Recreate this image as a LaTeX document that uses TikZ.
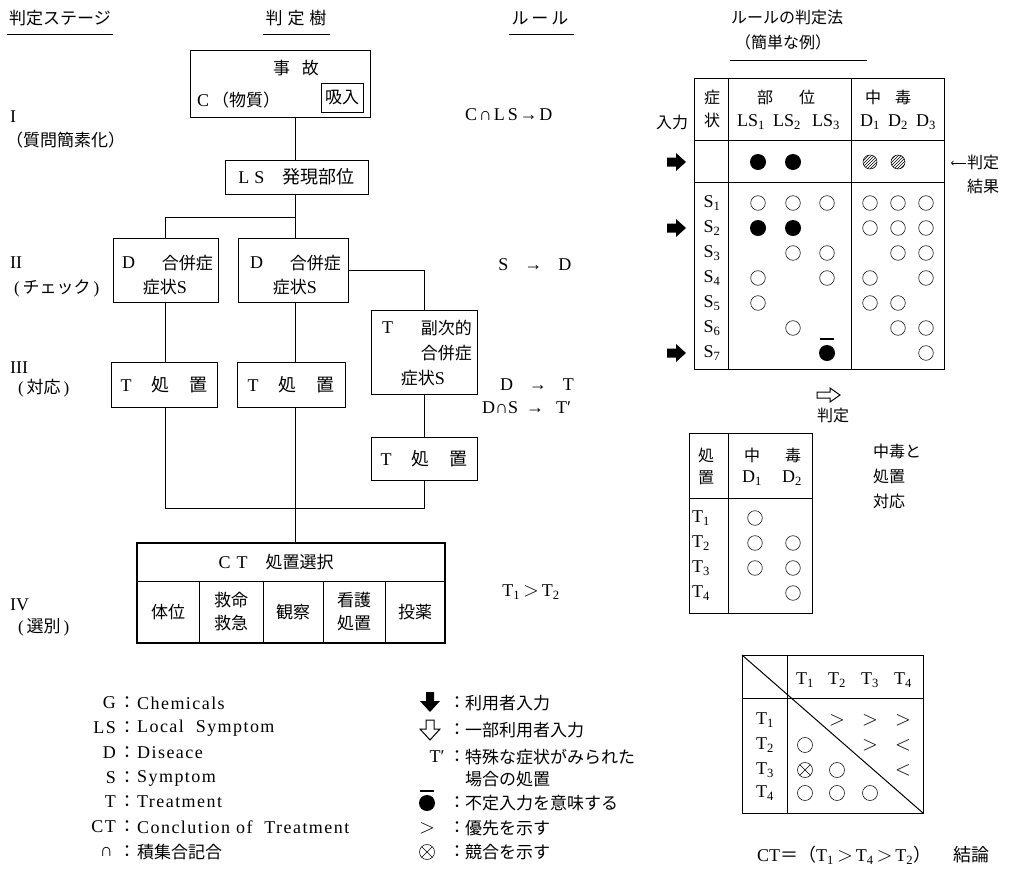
\documentclass[tikz,border=0pt]{standalone}
\usepackage{fontspec}
\setmainfont{Liberation Serif}
\newfontfamily\jp{Noto Sans CJK JP}
\newfontfamily\lsp[LetterSpace=8]{Liberation Serif}
\newfontfamily\rsp[LetterSpace=10]{Liberation Serif}
\usetikzlibrary{patterns}
\newcommand\mysub[1]{\textsubscript{#1}}
\newcommand\mygt{{\fontsize{20}{20}\selectfont$>$}}
\newcommand\mylt{{\fontsize{20}{20}\selectfont$<$}}
\newcommand\Tsyo{T\hspace{20pt}{\jp 処}\hspace{20pt}{\jp 置}}
\begin{document}
\begin{tikzpicture}[x=1pt,y=-1pt,
  t/.style={inner sep=0pt, font=\fontsize{18}{20}\selectfont},
  r/.style={inner sep=0pt, font=\fontsize{18}{20}\selectfont\rsp},
  j/.style={inner sep=0pt, font=\fontsize{17}{22}\selectfont\jp},
  js/.style={inner sep=0pt, font=\fontsize{16}{20}\selectfont\jp},
  box/.style={draw, line width=0.9pt, inner sep=0pt, font=\fontsize{18}{23}\selectfont},
  cell/.style={box, align=center, font=\fontsize{17}{23}\selectfont\jp},
  ln/.style={line width=0.9pt},
  tbl/.style={line width=0.9pt},
  oc/.style={line width=0.55pt},
  lg/.style={inner sep=0pt, font=\fontsize{18}{20}\selectfont\lsp},
  gl/.style={inner sep=0pt, font=\fontsize{20}{20}\selectfont},
]
\useasboundingbox (0,0) rectangle (1010,871);

% ---------- headers ----------
\node[j] (h1) at (60,18) {判定ステージ};
\draw[ln] (7,34) -- (113,34);
\node[j] (h2) at (296,18) {判\hspace{5pt}定\hspace{5pt}樹};
\draw[ln] (263,34) -- (330,34);
\node[j] (h3) at (540,18) {ル\hspace{3pt}ー\hspace{3pt}ル};
\draw[ln] (509,34) -- (574,34);
\node[js] (h4) at (787,17) {ルールの判定法};
\node[js] (h5) at (783,42) {（簡単な例）};
\draw[ln] (730,60) -- (867,60);

% ---------- stage labels ----------
\node[t, anchor=west] (s1) at (10,117) {I};
\node[j, anchor=west] (s1b) at (6,140) {（質問簡素化）};
\node[t, anchor=west] (s2) at (10,263) {II};
\node[j, anchor=west] (s2b) at (14,288) {{\rmfamily(}\,チェック\,{\rmfamily)}};
\node[t, anchor=west] (s3) at (10,368) {III};
\node[j, anchor=west] (s3b) at (18,388) {{\rmfamily(}\,対応\,{\rmfamily)}};
\node[t, anchor=west] (s4) at (10,605) {IV};
\node[j, anchor=west] (s4b) at (18,627) {{\rmfamily(}\,選別\,{\rmfamily)}};

% ---------- decision tree ----------
\coordinate (trunk) at (295,0);
\node[box, minimum width=180, minimum height=67] (acc) at (280,83.5) {};
\node[j] (acc1) at (296,68) {事\hspace{12pt}故};
\node[j, anchor=west] (acc2) at (197,100) {{\rmfamily\fontsize{18}{20}\selectfont C}\,（物質）};
\node[box, minimum width=42, minimum height=29, font=\fontsize{17}{20}\selectfont\jp] (inh) at (342,97.5) {吸入};

\node[box, minimum width=143, minimum height=34] (ls) at (296.5,177) {L\hspace{5pt}S\hspace{18pt}{\jp 発現部位}};
\draw[ln] (acc.south -| trunk) -- (ls.north -| trunk);

\node[box, minimum width=105, minimum height=64] (d1) at (165.5,270) {};
\node[box, minimum width=110, minimum height=64] (d2) at (293,270) {};
\coordinate (jn) at (295,217);
\draw[ln] (ls.south -| trunk) -- (d2.north -| trunk);
\draw[ln] (jn) -| (d1.north);
\node[t, anchor=west] (d1a) at (122,263) {D};
\node[j, anchor=east] (d1b) at (213,263) {合併症};
\node[j] (d1c) at (165,287) {症状{\rmfamily\fontsize{18}{20}\selectfont S}};
\node[t, anchor=west] (d2a) at (250,263) {D};
\node[j, anchor=east] (d2b) at (341,263) {合併症};
\node[j] (d2c) at (295,287) {症状{\rmfamily\fontsize{18}{20}\selectfont S}};

\node[box, minimum width=106, minimum height=84] (ts) at (424,352) {};
\draw[ln] (d2.east) -| (ts.north);
\node[t, anchor=west] (tsa) at (382,328) {T};
\node[j, anchor=east] (tsb) at (472,328) {副次的};
\node[j, anchor=east] (tsc) at (472,353) {合併症};
\node[j] (tsd) at (423,378) {症状{\rmfamily\fontsize{18}{20}\selectfont S}};

\node[box, minimum width=106, minimum height=45] (t1) at (164,384.5) {\Tsyo};
\node[box, minimum width=108, minimum height=45] (t2) at (291,385) {\Tsyo};
\node[box, minimum width=106, minimum height=43] (t3) at (424,458.5) {\Tsyo};
\draw[ln] (d1.south) -- (d1.south |- t1.north);
\draw[ln] (d2.south -| trunk) -- (t2.north -| trunk);
\draw[ln] (ts.south) -- (ts.south |- t3.north);

\node[box, line width=1.1pt, minimum width=308, minimum height=100] (ct) at (291,593) {};
\coordinate (bj) at (295,508);
\draw[ln] (t1.south -| d1.south) -- (d1.south |- bj) -| (t3.south);
\draw[ln] (t2.south -| trunk) -- (ct.north -| trunk);
\node[j] (ctt) at (276,562) {{\rmfamily\fontsize{18}{20}\selectfont C\hspace{6pt}T}\hspace{18pt}処置選択};
\node[cell, minimum width=62, minimum height=62] (c1) at (168,612) {体位};
\node[cell, minimum width=64, minimum height=62] (c2) at (231,612) {救命\\救急};
\node[cell, minimum width=60, minimum height=62] (c3) at (293,612) {観察};
\node[cell, minimum width=62, minimum height=62] (c4) at (354,612) {看護\\処置};
\node[cell, minimum width=60, minimum height=62] (c5) at (415,612) {投薬};

% ---------- rules ----------
\node[r, anchor=west] (r1) at (465,115) {C∩L\,S→D};
\node[t] (r2) at (535,265) {S\hspace{16pt}→\hspace{16pt}D};
\node[t] (r3) at (537,385) {D\hspace{16pt}→\hspace{16pt}T};
\node[t, anchor=west] (r4) at (482,408) {D∩S\hspace{8pt}→\hspace{12pt}T′};
\node[t] (r5) at (531,592) {T\mysub{1}\,\mygt\,T\mysub{2}};

% ---------- table 1 ----------
\draw[tbl] (694,78) rectangle (944,369);
\draw[tbl] (728,78) -- (728,369);
\draw[tbl] (851,78) -- (851,369);
\draw[tbl] (694,140) -- (944,140);
\draw[tbl] (694,182) -- (944,182);
\node[js] (a1) at (712,97) {症};
\node[js] (a2) at (712,120) {状};
\node[js] (a3) at (672,122) {入力};
\node[js] (a4) at (765,97) {部};
\node[js] (a5) at (807,97) {位};
\node[t] (a6) at (751,122) {LS\mysub{1}};
\node[t] (a7) at (787,122) {LS\mysub{2}};
\node[t] (a8) at (826,122) {LS\mysub{3}};
\node[js] (a9) at (873,97) {中};
\node[js] (a10) at (903,97) {毒};
\node[t] (a11) at (870,122) {D\mysub{1}};
\node[t] (a12) at (898,122) {D\mysub{2}};
\node[t] (a13) at (926,122) {D\mysub{3}};
\foreach \i in {1,...,7}{
  \node[t] (srow\i) at (712,{178+25*\i}) {S\mysub{\i}};
}
\foreach \x/\y in {758/203,793/203,827/203,870/203,898/203,926/203,
  870/228,898/228,926/228,
  793/253,827/253,898/253,926/253,
  758/278,827/278,870/278,926/278,
  758/303,870/303,898/303,
  793/328,898/328,926/328,
  926/353}{
  \draw[oc] (\x,\y) circle[radius=7.3pt];
}
\foreach \x/\y in {758/162,793/162,758/228,793/228,827/353}{
  \fill (\x,\y) circle[radius=8pt];
}
\draw[line width=1.2pt] (820,339) -- (834,339);
\foreach \x in {870,898}{
  \draw[oc, pattern=north east lines] (\x,162) circle[radius=7pt];
}
\foreach \y in {162,228,353}{
  \fill[shift={(667,\y)}] (0,-4.5) -- (9,-4.5) -- (9,-9) -- (19,0) -- (9,9) -- (9,4.5) -- (0,4.5) -- cycle;
}
\node[js] (res1) at (983,162) {判定};
\node[js] (res2) at (983,186) {結果};
\draw[line width=0.8pt, ->] (966,163) -- (951,163);

% open arrow and 判定
\draw[line width=1pt] (817,392) -- (830,392) -- (830,388) -- (840,395) -- (830,402) -- (830,398) -- (817,398) -- cycle;
\node[js] (hant) at (833,415) {判定};

% ---------- table 2 ----------
\draw[tbl] (689,433) rectangle (812,613);
\draw[tbl] (728,433) -- (728,613);
\draw[tbl] (689,498) -- (812,498);
\node[js] (b1) at (706,455) {処};
\node[js] (b2) at (706,478) {置};
\node[js] (b3) at (752,455) {中};
\node[js] (b4) at (793,455) {毒};
\node[t] (b5) at (752,478) {D\mysub{1}};
\node[t] (b6) at (792,478) {D\mysub{2}};
\foreach \i in {1,...,4}{
  \node[t] (trow\i) at (701,{493+25*\i}) {T\mysub{\i}};
}
\foreach \x/\y in {755/518,755/543,793/543,755/568,793/568,793/593}{
  \draw[oc] (\x,\y) circle[radius=7.3pt];
}
\node[js, align=left, anchor=north west, font=\fontsize{16}{25}\selectfont\jp] (b7) at (873,444) {中毒と\\処置\\対応};

% ---------- table 3 ----------
\draw[tbl] (742,655) rectangle (923,813);
\draw[tbl] (787,655) -- (787,813);
\draw[tbl] (742,698) -- (923,698);
\draw[line width=1pt] (742,655) -- (923,813);
\foreach \i/\x in {1/805,2/837,3/870,4/903}{
  \node[t] (th\i) at (\x,680) {T\mysub{\i}};
}
\foreach \i/\y in {1/720,2/745,3/770,4/793}{
  \node[t] (tr\i) at (765,\y) {T\mysub{\i}};
}
\foreach \x/\y [count=\k] in {837/720,870/720,903/720,870/745}{
  \node[gl] (gt\k) at (\x,\y) {$>$};
}
\foreach \x/\y [count=\k] in {903/745,903/770}{
  \node[gl] (lt\k) at (\x,\y) {$<$};
}
\foreach \x/\y in {805/745,837/770,805/793,837/793,870/793}{
  \draw[oc] (\x,\y) circle[radius=7.5pt];
}
\draw[oc] (805,770) circle[radius=7.5pt];
\draw[oc] (805,770) ++(-5.3,-5.3) -- ++(10.6,10.6);
\draw[oc] (805,770) ++(-5.3,5.3) -- ++(10.6,-10.6);
\node[t, anchor=west] (concl) at (757,855) {CT{\jp ＝（}T\mysub{1}\,\mygt\,T\mysub{4}\,\mygt\,T\mysub{2}{\jp ）}\hspace{22pt}{\jp 結論}};

% ---------- legend left ----------
\foreach \k/\y/\txt [count=\n] in {G/703/Chemicals, LS/728/Local\ \ Symptom, D/753/Diseace, S/778/Symptom, T/802/Treatment, CT/827/Conclution of\ \ Treatment}{
  \node[lg, anchor=east] (lk\n) at (116,\y) {\k};
  \node[j] (lc\n) at (127,\y) {：};
  \node[lg, anchor=west] (lt\n) at (137,\y) {\txt};
}
\node[lg, anchor=east] (lk7) at (113,852) {∩};
\node[j] (lc7) at (127,852) {：};
\node[j, anchor=west] (lt7) at (137,852) {積集合記合};

% ---------- legend middle ----------
\fill[shift={(430,702)}] (-4,-10) -- (4,-10) -- (4,-1) -- (10,-1) -- (0,10) -- (-10,-1) -- (-4,-1) -- cycle;
\draw[line width=1pt, shift={(430,730)}] (-4,-10) -- (4,-10) -- (4,-1) -- (10,-1) -- (0,10) -- (-10,-1) -- (-4,-1) -- cycle;
\node[t] (mT) at (437,757) {T′};
\fill (427,803) circle[radius=8pt];
\draw[line width=1.2pt] (420,791) -- (434,791);
\node[gl] (mgt) at (427,828) {$>$};
\draw[oc] (427,852) circle[radius=7.5pt];
\draw[oc] (427,852) ++(-5.3,-5.3) -- ++(10.6,10.6);
\draw[oc] (427,852) ++(-5.3,5.3) -- ++(10.6,-10.6);
\foreach \y/\txt [count=\n] in {703/利用者入力, 730/一部利用者入力, 757/特殊な症状がみられた, 803/不定入力を意味する, 828/優先を示す, 852/競合を示す}{
  \node[j] (mc\n) at (457,\y) {：};
  \node[j, anchor=west] (mt\n) at (465,\y) {\txt};
}
\node[j, anchor=west] (mt7) at (465,779) {場合の処置};
\end{tikzpicture}
\end{document}
